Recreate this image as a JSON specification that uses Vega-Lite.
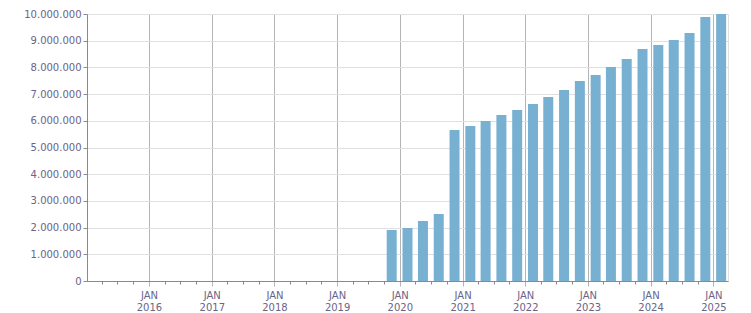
{
  "$schema": "https://vega.github.io/schema/vega-lite/v6.json",
  "width": 641,
  "height": 267,
  "autosize": "none",
  "padding": {"left": 87, "top": 14, "right": 23, "bottom": 32},
  "background": "white",
  "config": {
    "view": {"stroke": "#e0e0e0", "strokeWidth": 1},
    "axis": {
      "labelFont": "DejaVu Sans",
      "labelFontSize": 10,
      "labelColor": "#6a6488",
      "domainColor": "#8a8a8a",
      "tickColor": "#8a8a8a",
      "title": null
    }
  },
  "data": {
    "values": [
      {"date": "2019-11-15", "value": 1910000},
      {"date": "2020-02-15", "value": 1985000},
      {"date": "2020-05-15", "value": 2247000},
      {"date": "2020-08-15", "value": 2510000},
      {"date": "2020-11-15", "value": 5655000},
      {"date": "2021-02-15", "value": 5805000},
      {"date": "2021-05-15", "value": 5990000},
      {"date": "2021-08-15", "value": 6217000},
      {"date": "2021-11-15", "value": 6400000},
      {"date": "2022-02-15", "value": 6630000},
      {"date": "2022-05-15", "value": 6890000},
      {"date": "2022-08-15", "value": 7150000},
      {"date": "2022-11-15", "value": 7490000},
      {"date": "2023-02-15", "value": 7715000},
      {"date": "2023-05-15", "value": 8015000},
      {"date": "2023-08-15", "value": 8310000},
      {"date": "2023-11-15", "value": 8690000},
      {"date": "2024-02-15", "value": 8840000},
      {"date": "2024-05-15", "value": 9026000},
      {"date": "2024-08-15", "value": 9290000},
      {"date": "2024-11-15", "value": 9890000},
      {"date": "2025-02-15", "value": 10000000}
    ]
  },
  "mark": {"type": "bar", "width": 10, "color": "#78b0d2"},
  "encoding": {
    "x": {
      "field": "date",
      "type": "temporal",
      "scale": {"domain": [{"year": 2015, "month": 1, "date": 5}, {"year": 2025, "month": 3, "date": 27}], "nice": false, "padding": 0},
      "axis": {
        "tickCount": {"interval": "month", "step": 3},
        "grid": true,
        "gridColor": {"condition": {"test": "month(datum.value) == 0", "value": "#b4b4b4"}, "value": "#ffffff"},
        "gridOpacity": {"condition": {"test": "month(datum.value) == 0", "value": 1}, "value": 0},
        "tickColor": {"condition": {"test": "month(datum.value) == 0", "value": "#b4b4b4"}, "value": "#8a8a8a"},
        "tickSize": {"condition": {"test": "month(datum.value) == 0", "value": 5}, "value": 3},
        "labelExpr": "month(datum.value) == 0 ? ['JAN', timeFormat(datum.value, '%Y')] : ''",
        "labelOverlap": false,
        "labelFlush": false,
        "labelPadding": 4,
        "labelLineHeight": 12,
        "labelBaseline": "top"
      }
    },
    "y": {
      "field": "value",
      "type": "quantitative",
      "scale": {"domain": [0, 10000000], "nice": false},
      "axis": {
        "values": [0, 1000000, 2000000, 3000000, 4000000, 5000000, 6000000, 7000000, 8000000, 9000000, 10000000],
        "labelExpr": "replace(format(datum.value, ','), regexp(',', 'g'), '.')",
        "gridColor": "#e0e0e0",
        "tickSize": 4,
        "labelPadding": 2
      }
    }
  }
}
